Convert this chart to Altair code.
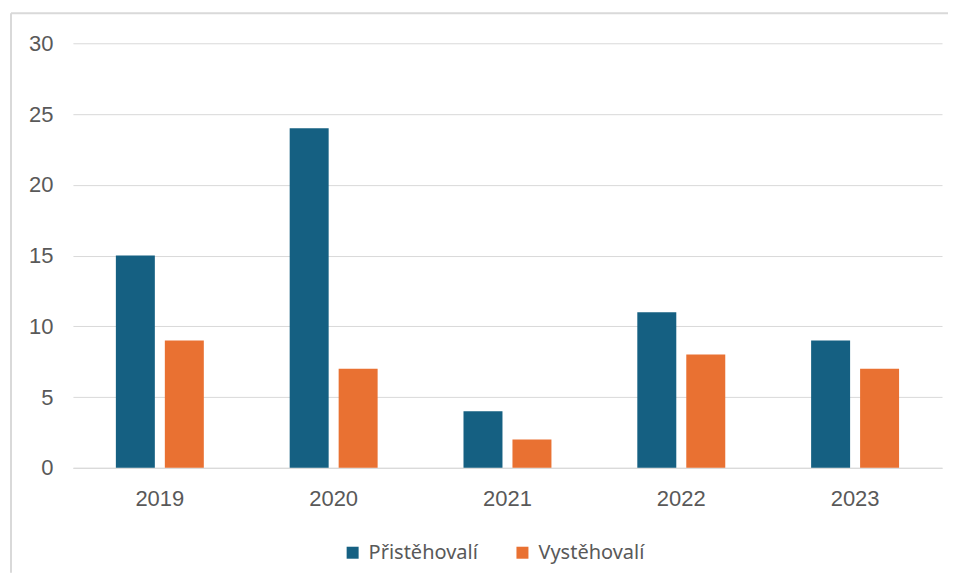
import altair as alt
import pandas as pd

years = ["2019", "2020", "2021", "2022", "2023"]
series = ["Přistěhovalí", "Vystěhovalí"]
pristehovali = [15, 24, 4, 11, 9]
vystehovali = [9, 7, 2, 8, 7]
colors = ["#156082", "#E97132"]

rows = []
for i, y in enumerate(years):
    rows.append({"rok": y, "serie": series[0], "hodnota": pristehovali[i]})
    rows.append({"rok": y, "serie": series[1], "hodnota": vystehovali[i]})
df = pd.DataFrame(rows)

FONT = "Liberation Sans"

bars = alt.Chart(df).mark_bar().encode(
    x=alt.X("rok:N", sort=years, title=None,
            scale=alt.Scale(paddingInner=0.494, paddingOuter=0.247),
            axis=alt.Axis(labelAngle=0, ticks=False, grid=False, domainColor="#d9d9d9",
                          labelPadding=21, labelFontSize=22, labelColor="#595959",
                          labelFont=FONT)),
    xOffset=alt.XOffset("serie:N", sort=series, scale=alt.Scale(paddingInner=0.204)),
    y=alt.Y("hodnota:Q", title=None,
            scale=alt.Scale(domain=[0, 30]),
            axis=alt.Axis(values=[0, 5, 10, 15, 20, 25, 30], ticks=False, domain=False,
                          gridColor="#d9d9d9", labelPadding=20, labelFontSize=22,
                          labelColor="#595959", labelFont=FONT)),
    color=alt.Color("serie:N", sort=series,
                    scale=alt.Scale(domain=series, range=colors),
                    legend=alt.Legend(title=None, orient="none", direction="horizontal",
                                      legendX=270, legendY=500,
                                      symbolType="square", symbolSize=144,
                                      symbolStrokeWidth=0, labelOffset=6,
                                      labelFontSize=20, labelColor="#595959",
                                      labelFont="Noto Sans", columnPadding=34)),
)

frame_data = alt.Data(values=[{}])
top_rule = alt.Chart(frame_data).mark_rule(color="#d9d9d9", strokeWidth=2).encode(
    x=alt.value(-62), x2=alt.value(876), y=alt.value(-30)
)
left_rule = alt.Chart(frame_data).mark_rule(color="#d9d9d9", strokeWidth=2).encode(
    x=alt.value(-62), y=alt.value(-30), y2=alt.value(530)
)

chart = alt.layer(bars, top_rule, left_rule).properties(
    width=870, height=425, background="white",
    padding={"left": 2, "top": 4, "right": 0, "bottom": 0},
).configure_view(strokeWidth=0, stroke=None)

chart.save("out.html", embed_options={"renderer": "svg", "actions": False})
